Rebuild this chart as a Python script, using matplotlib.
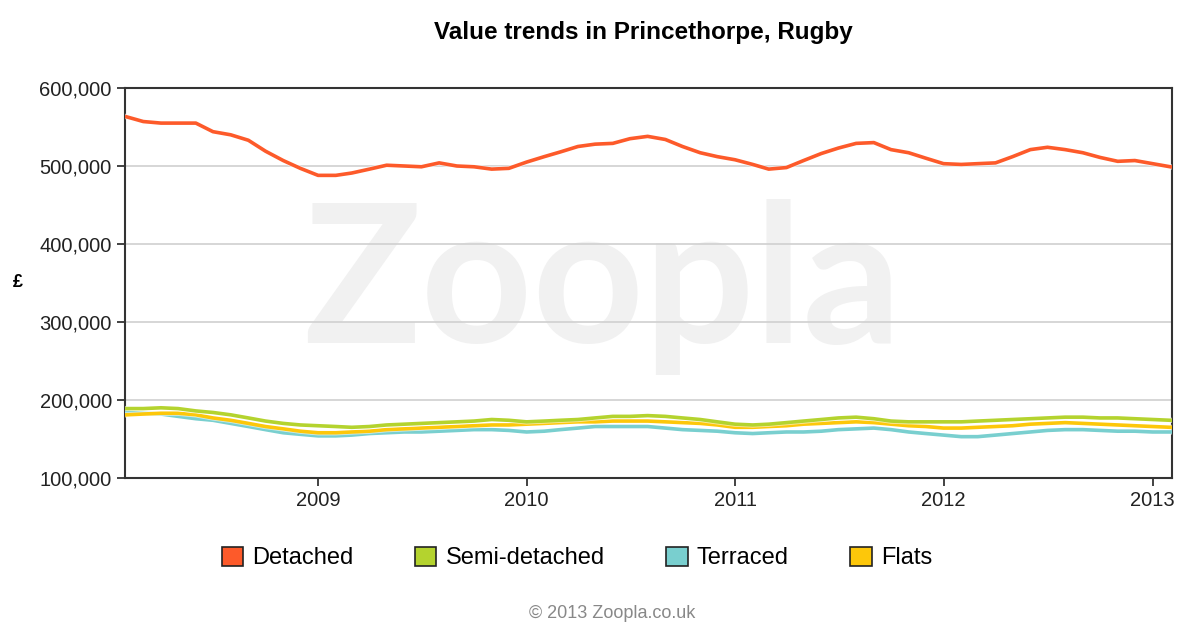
import pandas as pd
import matplotlib
matplotlib.use("Agg")
import matplotlib.pyplot as plt
import matplotlib.patheffects as pe
from matplotlib.patches import Patch
from matplotlib.ticker import FuncFormatter
from datetime import datetime

plt.rcParams['font.family'] = ['Liberation Sans', 'DejaVu Sans']

months = pd.date_range('2008-02-01', periods=61, freq='MS')

detached = [563, 557, 555, 555, 555, 544, 540, 533, 519, 507, 497, 488, 488, 491, 496, 501,
            500, 499, 504, 500, 499, 496, 497, 505, 512, 518, 525, 528, 529, 535, 538, 534,
            525, 517, 512, 508, 502, 496, 498, 507, 516, 523, 529, 530, 521, 517, 510, 503,
            502, 503, 504, 512, 521, 524, 521, 517, 511, 506, 507, 503, 499]
semi = [189, 189, 190, 189, 186, 184, 181, 177, 173, 170, 168, 167, 166, 165, 166, 168,
        169, 170, 171, 172, 173, 175, 174, 172, 173, 174, 175, 177, 179, 179, 180, 179,
        177, 175, 172, 169, 168, 169, 171, 173, 175, 177, 178, 176, 173, 172, 172, 172,
        172, 173, 174, 175, 176, 177, 178, 178, 177, 177, 176, 175, 174]
terraced = [184, 183, 182, 179, 176, 174, 170, 166, 162, 158, 156, 154, 154, 155, 157, 158,
            159, 159, 160, 161, 162, 162, 161, 159, 160, 162, 164, 166, 166, 166, 166, 164,
            162, 161, 160, 158, 157, 158, 159, 159, 160, 162, 163, 164, 162, 159, 157, 155,
            153, 153, 155, 157, 159, 161, 162, 162, 161, 160, 160, 159, 159]
flats = [181, 182, 183, 183, 181, 177, 174, 170, 166, 163, 160, 158, 158, 159, 160, 162,
         163, 164, 165, 166, 167, 168, 168, 169, 170, 171, 172, 172, 173, 173, 173, 172,
         171, 170, 168, 165, 165, 166, 167, 169, 170, 171, 172, 171, 169, 167, 166, 164,
         164, 165, 166, 167, 169, 170, 171, 170, 169, 168, 167, 166, 165]

series_names = ['Detached', 'Semi-detached', 'Terraced', 'Flats']
colors = ['#fd5a2a', '#b4d32e', '#79cfcf', '#fdc70a']

fig = plt.figure(figsize=(11.79, 6.26), dpi=100)
ax = fig.add_axes([125 / 1179, 1 - 478 / 626, (1172 - 125) / 1179, (478 - 88) / 626])

# watermark
ax.text(0.456, 0.49, 'Zoopla', transform=ax.transAxes, ha='center', va='center',
        fontsize=140, color='#f1f1f1', family=['Lato', 'DejaVu Sans'], fontweight='bold',
        zorder=0)

order = [2, 3, 1, 0]
for i in order:
    vals = [v * 1000 for v in [detached, semi, terraced, flats][i]]
    ax.plot(months, vals, color=colors[i], lw=2.6, zorder=3,
            path_effects=[pe.Stroke(linewidth=3.8, foreground='white', alpha=0.6), pe.Normal()])

ax.set_ylim(100000, 600000)
ax.set_yticks(range(100000, 600001, 100000))
ax.yaxis.set_major_formatter(FuncFormatter(lambda v, p: f'{int(v):,}'))
ax.set_xlim(datetime(2008, 1, 29), datetime(2013, 2, 4))
ax.set_xticks([datetime(y, 1, 1) for y in range(2009, 2014)])
ax.set_xticklabels([str(y) for y in range(2009, 2014)])
ax.grid(axis='y', color='#d0d0d0', lw=1.2)
ax.set_axisbelow(True)
ax.tick_params(labelsize=14.5, colors='#222222', length=6, width=1.2)
for s in ax.spines.values():
    s.set_color('#333333')
    s.set_linewidth(1.5)

fig.text(18 / 1179, 1 - 283 / 626, '£', fontsize=13, fontweight='bold', ha='center', va='center')
fig.text(643 / 1179, 1 - 32 / 626, 'Value trends in Princethorpe, Rugby', fontsize=17.5,
         fontweight='bold', ha='center', va='center')

handles = [Patch(facecolor=c, edgecolor='#222222', lw=1.2) for c in colors]
fig.legend(handles, series_names, loc='center', bbox_to_anchor=(577 / 1179, 1 - 558 / 626),
           ncol=4, frameon=False, fontsize=17, handlelength=0.9, handleheight=0.9,
           handletextpad=0.4, columnspacing=2.6)

fig.text(612 / 1179, 1 - 613 / 626, '© 2013 Zoopla.co.uk', fontsize=13, color='#888888',
         ha='center', va='center')

fig.savefig('out.png', dpi=100)
